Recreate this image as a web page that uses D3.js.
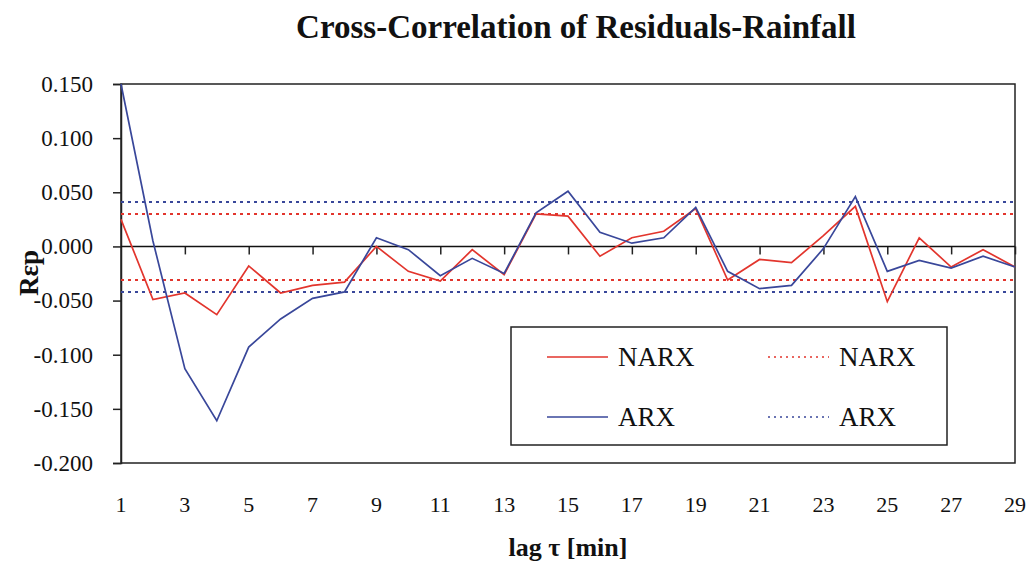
<!DOCTYPE html>
<html><head><meta charset="utf-8">
<script src="https://cdn.jsdelivr.net/npm/d3@7"></script>
<style>body{margin:0;background:#fff}svg{display:block}</style>
</head><body><svg id="c" width="1027" height="563" font-family="Liberation Serif, serif"></svg>
<script>
const lags = d3.range(1, 30);
const narx = [0.025,-0.049,-0.043,-0.063,-0.018,-0.043,-0.036,-0.033,0.000,-0.023,-0.032,-0.003,-0.026,0.030,0.028,-0.009,0.008,0.014,0.035,-0.031,-0.012,-0.015,0.010,0.037,-0.051,0.008,-0.019,-0.003,-0.019];
const arx  = [0.150,0.005,-0.113,-0.161,-0.093,-0.067,-0.048,-0.042,0.008,-0.003,-0.027,-0.011,-0.025,0.031,0.051,0.013,0.003,0.008,0.036,-0.023,-0.039,-0.036,-0.002,0.046,-0.023,-0.013,-0.020,-0.009,-0.019];
const narxBounds = [0.030, -0.031];
const arxBounds  = [0.041, -0.042];
const yTicks = [0.15,0.10,0.05,0.0,-0.05,-0.10,-0.15,-0.20];
const xTicks = d3.range(1, 30, 2);
const legendItems = [
  {name:"NARX", color:"#e2352d", dashed:false},
  {name:"NARX", color:"#e2352d", dashed:true},
  {name:"ARX", color:"#39479a", dashed:false},
  {name:"ARX", color:"#39479a", dashed:true}
];

const FONT = "Liberation Serif, serif";
const svg = d3.select("#c");
const L=121, R=1015, T=84, B=463;
const x = d3.scaleLinear().domain([1,29]).range([L,R]);
const y = d3.scaleLinear().domain([-0.2,0.15]).range([B,T]);
const red = legendItems[0].color, blue = legendItems[2].color;

// title
svg.append("text").attr("x",576).attr("y",38).attr("text-anchor","middle")
  .attr("font-family",FONT).attr("font-weight","bold").attr("font-size",33)
  .attr("fill","#111").text("Cross-Correlation of Residuals-Rainfall");

// plot border
svg.append("rect").attr("x",L).attr("y",T).attr("width",R-L).attr("height",B-T)
  .attr("fill","none").attr("stroke","#222").attr("stroke-width",1.5);

// y axis
const ya = svg.append("g").attr("transform",`translate(${L},0)`)
  .call(d3.axisLeft(y).tickValues(yTicks).tickFormat(d3.format(".3f")).tickSize(8).tickPadding(20));
ya.attr("font-family",FONT);
ya.select(".domain").attr("stroke","#222").attr("stroke-width",1.5);
ya.selectAll(".tick line").attr("stroke","#222").attr("stroke-width",1.5);
ya.selectAll(".tick text").attr("font-family",FONT).attr("font-size",23).attr("fill","#111")
  .text(d => d3.format(".3f")(d).replace("−","-"));

// x axis on zero line (ticks only)
const xa = svg.append("g").attr("transform",`translate(0,${y(0)})`)
  .call(d3.axisBottom(x).tickValues(xTicks.filter(d=>d>1)).tickSize(8).tickFormat(""));
xa.select(".domain").remove();
xa.selectAll(".tick line").attr("stroke","#222").attr("stroke-width",1.5);
svg.append("line").attr("x1",L).attr("x2",R).attr("y1",y(0)).attr("y2",y(0))
  .attr("stroke","#111").attr("stroke-width",1.5);

// x tick labels at bottom
svg.append("g").selectAll("text").data(xTicks).join("text")
  .attr("x",d=>x(d)).attr("y",512).attr("text-anchor","middle")
  .attr("font-family",FONT).attr("font-size",22).attr("fill","#111").text(d=>d);

// axis titles
svg.append("text").attr("x",568).attr("y",556).attr("text-anchor","middle")
  .attr("font-family",FONT).attr("font-weight","bold").attr("font-size",26).attr("fill","#111")
  .text("lag τ [min]");
svg.append("text").attr("transform","translate(38,273) rotate(-90)").attr("text-anchor","middle")
  .attr("font-family",FONT).attr("font-weight","bold").attr("font-size",27).attr("fill","#111")
  .text("Rεp");

// bounds
const bounds = [{v:narxBounds,c:red},{v:arxBounds,c:blue}];
bounds.forEach(b => b.v.forEach(v => {
  svg.append("line").attr("x1",L).attr("x2",R).attr("y1",y(v)).attr("y2",y(v))
    .attr("stroke",b.c).attr("stroke-width",2).attr("stroke-dasharray","3,4");
}));

// series
const line = d3.line().x((d,i)=>x(lags[i])).y(d=>y(d));
svg.append("path").datum(narx).attr("d",line).attr("fill","none").attr("stroke",red).attr("stroke-width",1.7);
svg.append("path").datum(arx).attr("d",line).attr("fill","none").attr("stroke",blue).attr("stroke-width",1.7);

// legend
const lg = svg.append("g");
lg.append("rect").attr("x",511).attr("y",327).attr("width",436).attr("height",118)
  .attr("fill","#fff").attr("stroke","#222").attr("stroke-width",1.5);
const pos = [[547,357],[768,357],[547,417],[768,417]];
legendItems.forEach((it,i)=>{
  const [px,py]=pos[i];
  lg.append("line").attr("x1",px).attr("x2",px+61).attr("y1",py).attr("y2",py)
    .attr("stroke",it.color).attr("stroke-width",1.5)
    .attr("stroke-dasharray",it.dashed?"2,4":null);
  lg.append("text").attr("x",px+71).attr("y",py+9)
    .attr("font-family",FONT).attr("font-size",27).attr("fill","#111").text(it.name);
});
</script></body></html>
